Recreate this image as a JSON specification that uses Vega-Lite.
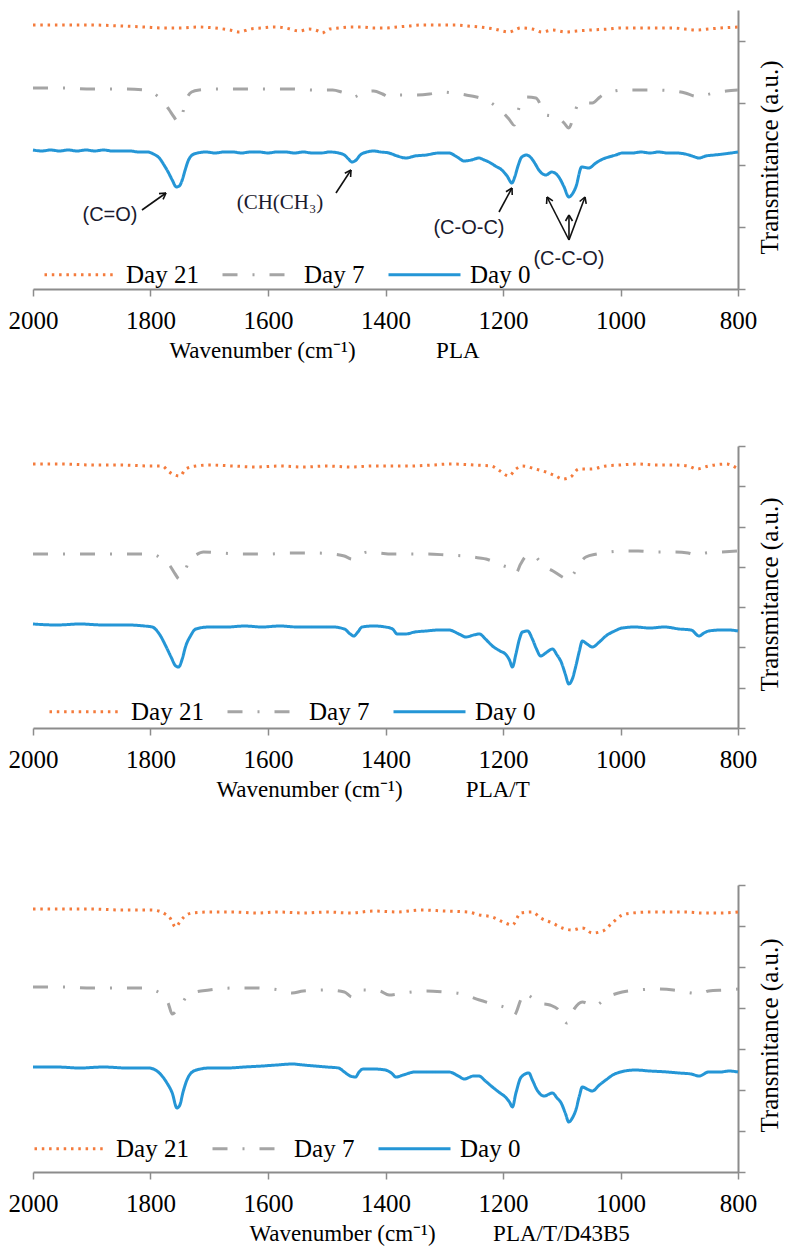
{
  "$schema": "https://vega.github.io/schema/vega-lite/v6.json",
  "background": "white",
  "padding": {"left": 8, "top": 10, "right": 5, "bottom": 5},
  "bounds": "flush",
  "spacing": 157,
  "config": {
    "view": {"stroke": null},
    "font": "Liberation Serif",
    "axis": {
      "grid": false,
      "domainColor": "#8c8c8c",
      "domainWidth": 2,
      "tickColor": "#8c8c8c",
      "tickWidth": 1.5,
      "tickSize": 7,
      "labelFont": "Liberation Serif",
      "labelFontSize": 25,
      "labelColor": "#000000",
      "titleFont": "Liberation Serif",
      "titleFontWeight": "normal",
      "titleColor": "#000000"
    },
    "axisX": {"labelPadding": 12, "labelFlush": false, "titleFontSize": 23},
    "axisY": {"labels": false, "titleAngle": 270, "titleBaseline": "middle", "titleAlign": "center", "titleFontSize": 25},
    "legend": {
      "direction": "horizontal",
      "symbolType": "stroke",
      "symbolSize": 5184,
      "symbolStrokeWidth": 3,
      "labelFont": "Liberation Serif",
      "labelFontSize": 25,
      "labelColor": "#000000",
      "labelOffset": 8,
      "columnPadding": 17,
      "padding": 0,
      "labelLimit": 0
    }
  },
  "resolve": {
    "scale": {"color": "independent", "strokeDash": "independent", "x": "independent", "y": "independent"},
    "legend": {"color": "independent", "strokeDash": "independent"}
  },
  "datasets": {
    "p1": [
      {"s":"Day 0","w":2000,"v":139},{"s":"Day 0","w":1985,"v":138},{"s":"Day 0","w":1970,"v":139},{"s":"Day 0","w":1955,"v":138},{"s":"Day 0","w":1940,"v":139},{"s":"Day 0","w":1925,"v":138},{"s":"Day 0","w":1910,"v":139},{"s":"Day 0","w":1895,"v":138},{"s":"Day 0","w":1880,"v":139},{"s":"Day 0","w":1865,"v":138},{"s":"Day 0","w":1850,"v":138},{"s":"Day 0","w":1835,"v":138},{"s":"Day 0","w":1820,"v":137},{"s":"Day 0","w":1805,"v":137},{"s":"Day 0","w":1795,"v":135},{"s":"Day 0","w":1785,"v":131},{"s":"Day 0","w":1777,"v":124},{"s":"Day 0","w":1770,"v":117},{"s":"Day 0","w":1763,"v":109},{"s":"Day 0","w":1756,"v":102},{"s":"Day 0","w":1751,"v":103},{"s":"Day 0","w":1746,"v":109},{"s":"Day 0","w":1741,"v":119},{"s":"Day 0","w":1736,"v":128},{"s":"Day 0","w":1729,"v":134},{"s":"Day 0","w":1720,"v":136},{"s":"Day 0","w":1705,"v":137},{"s":"Day 0","w":1690,"v":136},{"s":"Day 0","w":1675,"v":137},{"s":"Day 0","w":1660,"v":137},{"s":"Day 0","w":1645,"v":136},{"s":"Day 0","w":1630,"v":137},{"s":"Day 0","w":1615,"v":137},{"s":"Day 0","w":1600,"v":136},{"s":"Day 0","w":1585,"v":137},{"s":"Day 0","w":1570,"v":137},{"s":"Day 0","w":1555,"v":136},{"s":"Day 0","w":1540,"v":137},{"s":"Day 0","w":1525,"v":136},{"s":"Day 0","w":1510,"v":136},{"s":"Day 0","w":1495,"v":137},{"s":"Day 0","w":1480,"v":136},{"s":"Day 0","w":1470,"v":134},{"s":"Day 0","w":1463,"v":130},{"s":"Day 0","w":1457,"v":127},{"s":"Day 0","w":1450,"v":129},{"s":"Day 0","w":1443,"v":134},{"s":"Day 0","w":1432,"v":137},{"s":"Day 0","w":1420,"v":138},{"s":"Day 0","w":1408,"v":137},{"s":"Day 0","w":1394,"v":136},{"s":"Day 0","w":1380,"v":133},{"s":"Day 0","w":1365,"v":131},{"s":"Day 0","w":1350,"v":133},{"s":"Day 0","w":1331,"v":134},{"s":"Day 0","w":1309,"v":136},{"s":"Day 0","w":1292,"v":136},{"s":"Day 0","w":1278,"v":132},{"s":"Day 0","w":1266,"v":128},{"s":"Day 0","w":1254,"v":129},{"s":"Day 0","w":1241,"v":131},{"s":"Day 0","w":1232,"v":129},{"s":"Day 0","w":1224,"v":127},{"s":"Day 0","w":1213,"v":123},{"s":"Day 0","w":1202,"v":119},{"s":"Day 0","w":1193,"v":113},{"s":"Day 0","w":1185,"v":106},{"s":"Day 0","w":1180,"v":112},{"s":"Day 0","w":1175,"v":122},{"s":"Day 0","w":1168,"v":132},{"s":"Day 0","w":1160,"v":134},{"s":"Day 0","w":1152,"v":131},{"s":"Day 0","w":1145,"v":125},{"s":"Day 0","w":1139,"v":119},{"s":"Day 0","w":1127,"v":114},{"s":"Day 0","w":1117,"v":117},{"s":"Day 0","w":1105,"v":112},{"s":"Day 0","w":1096,"v":102},{"s":"Day 0","w":1088,"v":92},{"s":"Day 0","w":1082,"v":95},{"s":"Day 0","w":1076,"v":102},{"s":"Day 0","w":1066,"v":122},{"s":"Day 0","w":1054,"v":121},{"s":"Day 0","w":1042,"v":126},{"s":"Day 0","w":1030,"v":130},{"s":"Day 0","w":1020,"v":132},{"s":"Day 0","w":1008,"v":134},{"s":"Day 0","w":997,"v":136},{"s":"Day 0","w":980,"v":136},{"s":"Day 0","w":965,"v":137},{"s":"Day 0","w":950,"v":136},{"s":"Day 0","w":935,"v":137},{"s":"Day 0","w":920,"v":136},{"s":"Day 0","w":905,"v":136},{"s":"Day 0","w":890,"v":135},{"s":"Day 0","w":878,"v":133},{"s":"Day 0","w":866,"v":131},{"s":"Day 0","w":855,"v":133},{"s":"Day 0","w":840,"v":134},{"s":"Day 0","w":825,"v":135},{"s":"Day 0","w":812,"v":136},{"s":"Day 0","w":800,"v":137},
      {"s":"Day 7","w":2000,"v":201},{"s":"Day 7","w":1950,"v":201},{"s":"Day 7","w":1900,"v":200},{"s":"Day 7","w":1850,"v":200},{"s":"Day 7","w":1810,"v":199},{"s":"Day 7","w":1795,"v":196},{"s":"Day 7","w":1783,"v":190},{"s":"Day 7","w":1775,"v":185},{"s":"Day 7","w":1768,"v":179},{"s":"Day 7","w":1760,"v":172},{"s":"Day 7","w":1753,"v":167},{"s":"Day 7","w":1748,"v":170},{"s":"Day 7","w":1743,"v":181},{"s":"Day 7","w":1737,"v":192},{"s":"Day 7","w":1730,"v":197},{"s":"Day 7","w":1717,"v":199},{"s":"Day 7","w":1690,"v":200},{"s":"Day 7","w":1650,"v":200},{"s":"Day 7","w":1600,"v":200},{"s":"Day 7","w":1560,"v":200},{"s":"Day 7","w":1520,"v":199},{"s":"Day 7","w":1490,"v":199},{"s":"Day 7","w":1475,"v":197},{"s":"Day 7","w":1465,"v":195},{"s":"Day 7","w":1455,"v":192},{"s":"Day 7","w":1445,"v":194},{"s":"Day 7","w":1435,"v":197},{"s":"Day 7","w":1420,"v":198},{"s":"Day 7","w":1405,"v":195},{"s":"Day 7","w":1394,"v":192},{"s":"Day 7","w":1377,"v":194},{"s":"Day 7","w":1350,"v":194},{"s":"Day 7","w":1325,"v":195},{"s":"Day 7","w":1304,"v":197},{"s":"Day 7","w":1285,"v":196},{"s":"Day 7","w":1263,"v":194},{"s":"Day 7","w":1245,"v":192},{"s":"Day 7","w":1229,"v":189},{"s":"Day 7","w":1215,"v":184},{"s":"Day 7","w":1201,"v":177},{"s":"Day 7","w":1190,"v":170},{"s":"Day 7","w":1181,"v":164},{"s":"Day 7","w":1175,"v":176},{"s":"Day 7","w":1169,"v":189},{"s":"Day 7","w":1160,"v":192},{"s":"Day 7","w":1144,"v":191},{"s":"Day 7","w":1135,"v":183},{"s":"Day 7","w":1127,"v":174},{"s":"Day 7","w":1115,"v":173},{"s":"Day 7","w":1105,"v":171},{"s":"Day 7","w":1096,"v":166},{"s":"Day 7","w":1088,"v":161},{"s":"Day 7","w":1080,"v":172},{"s":"Day 7","w":1071,"v":186},{"s":"Day 7","w":1060,"v":186},{"s":"Day 7","w":1048,"v":186},{"s":"Day 7","w":1035,"v":192},{"s":"Day 7","w":1025,"v":196},{"s":"Day 7","w":1010,"v":198},{"s":"Day 7","w":997,"v":199},{"s":"Day 7","w":970,"v":199},{"s":"Day 7","w":940,"v":199},{"s":"Day 7","w":910,"v":198},{"s":"Day 7","w":890,"v":196},{"s":"Day 7","w":875,"v":193},{"s":"Day 7","w":866,"v":192},{"s":"Day 7","w":855,"v":194},{"s":"Day 7","w":840,"v":196},{"s":"Day 7","w":820,"v":198},{"s":"Day 7","w":800,"v":199},
      {"s":"Day 21","w":2000,"v":264},{"s":"Day 21","w":1950,"v":264},{"s":"Day 21","w":1900,"v":264},{"s":"Day 21","w":1850,"v":263},{"s":"Day 21","w":1810,"v":262},{"s":"Day 21","w":1780,"v":261},{"s":"Day 21","w":1750,"v":261},{"s":"Day 21","w":1720,"v":262},{"s":"Day 21","w":1690,"v":261},{"s":"Day 21","w":1665,"v":259},{"s":"Day 21","w":1649,"v":257},{"s":"Day 21","w":1630,"v":260},{"s":"Day 21","w":1610,"v":261},{"s":"Day 21","w":1590,"v":262},{"s":"Day 21","w":1570,"v":261},{"s":"Day 21","w":1547,"v":258},{"s":"Day 21","w":1530,"v":260},{"s":"Day 21","w":1515,"v":258},{"s":"Day 21","w":1508,"v":256},{"s":"Day 21","w":1495,"v":260},{"s":"Day 21","w":1480,"v":261},{"s":"Day 21","w":1460,"v":262},{"s":"Day 21","w":1440,"v":262},{"s":"Day 21","w":1420,"v":261},{"s":"Day 21","w":1400,"v":261},{"s":"Day 21","w":1380,"v":262},{"s":"Day 21","w":1360,"v":263},{"s":"Day 21","w":1340,"v":264},{"s":"Day 21","w":1320,"v":264},{"s":"Day 21","w":1300,"v":264},{"s":"Day 21","w":1280,"v":264},{"s":"Day 21","w":1260,"v":263},{"s":"Day 21","w":1240,"v":262},{"s":"Day 21","w":1215,"v":260},{"s":"Day 21","w":1190,"v":257},{"s":"Day 21","w":1170,"v":261},{"s":"Day 21","w":1150,"v":260},{"s":"Day 21","w":1134,"v":257},{"s":"Day 21","w":1115,"v":259},{"s":"Day 21","w":1093,"v":257},{"s":"Day 21","w":1075,"v":258},{"s":"Day 21","w":1050,"v":259},{"s":"Day 21","w":1020,"v":260},{"s":"Day 21","w":1000,"v":261},{"s":"Day 21","w":970,"v":261},{"s":"Day 21","w":940,"v":261},{"s":"Day 21","w":910,"v":261},{"s":"Day 21","w":890,"v":260},{"s":"Day 21","w":870,"v":259},{"s":"Day 21","w":850,"v":260},{"s":"Day 21","w":830,"v":261},{"s":"Day 21","w":800,"v":262}
    ],
    "p2": [
      {"s":"Day 0","w":2000,"v":104},{"s":"Day 0","w":1960,"v":103},{"s":"Day 0","w":1920,"v":104},{"s":"Day 0","w":1880,"v":103},{"s":"Day 0","w":1840,"v":103},{"s":"Day 0","w":1810,"v":102},{"s":"Day 0","w":1797,"v":101},{"s":"Day 0","w":1785,"v":94},{"s":"Day 0","w":1774,"v":82},{"s":"Day 0","w":1765,"v":71},{"s":"Day 0","w":1757,"v":62},{"s":"Day 0","w":1752,"v":61},{"s":"Day 0","w":1746,"v":69},{"s":"Day 0","w":1740,"v":82},{"s":"Day 0","w":1732,"v":92},{"s":"Day 0","w":1723,"v":99},{"s":"Day 0","w":1700,"v":101},{"s":"Day 0","w":1670,"v":101},{"s":"Day 0","w":1640,"v":102},{"s":"Day 0","w":1610,"v":101},{"s":"Day 0","w":1580,"v":102},{"s":"Day 0","w":1550,"v":101},{"s":"Day 0","w":1520,"v":101},{"s":"Day 0","w":1490,"v":101},{"s":"Day 0","w":1470,"v":99},{"s":"Day 0","w":1460,"v":94},{"s":"Day 0","w":1454,"v":92},{"s":"Day 0","w":1447,"v":96},{"s":"Day 0","w":1440,"v":101},{"s":"Day 0","w":1420,"v":102},{"s":"Day 0","w":1400,"v":101},{"s":"Day 0","w":1388,"v":99},{"s":"Day 0","w":1380,"v":94},{"s":"Day 0","w":1366,"v":94},{"s":"Day 0","w":1350,"v":96},{"s":"Day 0","w":1331,"v":97},{"s":"Day 0","w":1310,"v":98},{"s":"Day 0","w":1292,"v":98},{"s":"Day 0","w":1275,"v":94},{"s":"Day 0","w":1263,"v":91},{"s":"Day 0","w":1250,"v":93},{"s":"Day 0","w":1240,"v":94},{"s":"Day 0","w":1230,"v":89},{"s":"Day 0","w":1218,"v":82},{"s":"Day 0","w":1205,"v":77},{"s":"Day 0","w":1196,"v":74},{"s":"Day 0","w":1189,"v":68},{"s":"Day 0","w":1184,"v":61},{"s":"Day 0","w":1178,"v":74},{"s":"Day 0","w":1172,"v":89},{"s":"Day 0","w":1167,"v":96},{"s":"Day 0","w":1158,"v":97},{"s":"Day 0","w":1150,"v":89},{"s":"Day 0","w":1143,"v":79},{"s":"Day 0","w":1136,"v":72},{"s":"Day 0","w":1125,"v":76},{"s":"Day 0","w":1116,"v":79},{"s":"Day 0","w":1108,"v":73},{"s":"Day 0","w":1101,"v":66},{"s":"Day 0","w":1094,"v":54},{"s":"Day 0","w":1088,"v":44},{"s":"Day 0","w":1082,"v":49},{"s":"Day 0","w":1076,"v":62},{"s":"Day 0","w":1070,"v":77},{"s":"Day 0","w":1065,"v":87},{"s":"Day 0","w":1057,"v":84},{"s":"Day 0","w":1048,"v":81},{"s":"Day 0","w":1036,"v":86},{"s":"Day 0","w":1025,"v":92},{"s":"Day 0","w":1010,"v":97},{"s":"Day 0","w":997,"v":100},{"s":"Day 0","w":975,"v":101},{"s":"Day 0","w":950,"v":100},{"s":"Day 0","w":925,"v":101},{"s":"Day 0","w":900,"v":99},{"s":"Day 0","w":880,"v":98},{"s":"Day 0","w":866,"v":92},{"s":"Day 0","w":858,"v":95},{"s":"Day 0","w":850,"v":97},{"s":"Day 0","w":830,"v":98},{"s":"Day 0","w":815,"v":98},{"s":"Day 0","w":800,"v":97},
      {"s":"Day 7","w":2000,"v":174},{"s":"Day 7","w":1950,"v":174},{"s":"Day 7","w":1900,"v":174},{"s":"Day 7","w":1850,"v":174},{"s":"Day 7","w":1800,"v":174},{"s":"Day 7","w":1785,"v":171},{"s":"Day 7","w":1775,"v":166},{"s":"Day 7","w":1768,"v":163},{"s":"Day 7","w":1758,"v":154},{"s":"Day 7","w":1751,"v":149},{"s":"Day 7","w":1745,"v":153},{"s":"Day 7","w":1740,"v":159},{"s":"Day 7","w":1733,"v":169},{"s":"Day 7","w":1723,"v":173},{"s":"Day 7","w":1710,"v":176},{"s":"Day 7","w":1680,"v":175},{"s":"Day 7","w":1640,"v":174},{"s":"Day 7","w":1600,"v":174},{"s":"Day 7","w":1560,"v":175},{"s":"Day 7","w":1520,"v":175},{"s":"Day 7","w":1490,"v":174},{"s":"Day 7","w":1470,"v":172},{"s":"Day 7","w":1457,"v":169},{"s":"Day 7","w":1445,"v":173},{"s":"Day 7","w":1430,"v":176},{"s":"Day 7","w":1410,"v":175},{"s":"Day 7","w":1390,"v":174},{"s":"Day 7","w":1360,"v":174},{"s":"Day 7","w":1330,"v":174},{"s":"Day 7","w":1295,"v":173},{"s":"Day 7","w":1265,"v":172},{"s":"Day 7","w":1240,"v":170},{"s":"Day 7","w":1229,"v":169},{"s":"Day 7","w":1215,"v":166},{"s":"Day 7","w":1198,"v":162},{"s":"Day 7","w":1185,"v":159},{"s":"Day 7","w":1178,"v":155},{"s":"Day 7","w":1170,"v":164},{"s":"Day 7","w":1160,"v":172},{"s":"Day 7","w":1148,"v":173},{"s":"Day 7","w":1138,"v":167},{"s":"Day 7","w":1127,"v":161},{"s":"Day 7","w":1115,"v":157},{"s":"Day 7","w":1099,"v":151},{"s":"Day 7","w":1088,"v":148},{"s":"Day 7","w":1080,"v":154},{"s":"Day 7","w":1070,"v":164},{"s":"Day 7","w":1059,"v":171},{"s":"Day 7","w":1040,"v":174},{"s":"Day 7","w":1020,"v":176},{"s":"Day 7","w":997,"v":177},{"s":"Day 7","w":970,"v":177},{"s":"Day 7","w":940,"v":176},{"s":"Day 7","w":910,"v":176},{"s":"Day 7","w":885,"v":175},{"s":"Day 7","w":870,"v":173},{"s":"Day 7","w":855,"v":175},{"s":"Day 7","w":830,"v":176},{"s":"Day 7","w":800,"v":177},
      {"s":"Day 21","w":2000,"v":264},{"s":"Day 21","w":1950,"v":264},{"s":"Day 21","w":1900,"v":263},{"s":"Day 21","w":1850,"v":263},{"s":"Day 21","w":1800,"v":262},{"s":"Day 21","w":1780,"v":262},{"s":"Day 21","w":1770,"v":257},{"s":"Day 21","w":1763,"v":254},{"s":"Day 21","w":1750,"v":252},{"s":"Day 21","w":1740,"v":259},{"s":"Day 21","w":1723,"v":262},{"s":"Day 21","w":1700,"v":263},{"s":"Day 21","w":1660,"v":262},{"s":"Day 21","w":1620,"v":261},{"s":"Day 21","w":1580,"v":262},{"s":"Day 21","w":1540,"v":261},{"s":"Day 21","w":1500,"v":262},{"s":"Day 21","w":1460,"v":261},{"s":"Day 21","w":1420,"v":262},{"s":"Day 21","w":1390,"v":262},{"s":"Day 21","w":1360,"v":262},{"s":"Day 21","w":1320,"v":263},{"s":"Day 21","w":1290,"v":264},{"s":"Day 21","w":1250,"v":263},{"s":"Day 21","w":1220,"v":262},{"s":"Day 21","w":1205,"v":257},{"s":"Day 21","w":1190,"v":252},{"s":"Day 21","w":1178,"v":259},{"s":"Day 21","w":1167,"v":262},{"s":"Day 21","w":1145,"v":259},{"s":"Day 21","w":1127,"v":256},{"s":"Day 21","w":1110,"v":252},{"s":"Day 21","w":1099,"v":249},{"s":"Day 21","w":1085,"v":251},{"s":"Day 21","w":1071,"v":259},{"s":"Day 21","w":1050,"v":259},{"s":"Day 21","w":1025,"v":262},{"s":"Day 21","w":1000,"v":263},{"s":"Day 21","w":970,"v":264},{"s":"Day 21","w":940,"v":263},{"s":"Day 21","w":910,"v":263},{"s":"Day 21","w":885,"v":262},{"s":"Day 21","w":870,"v":259},{"s":"Day 21","w":850,"v":262},{"s":"Day 21","w":820,"v":264},{"s":"Day 21","w":800,"v":259}
    ],
    "p3": [
      {"s":"Day 0","w":2000,"v":105},{"s":"Day 0","w":1960,"v":105},{"s":"Day 0","w":1920,"v":104},{"s":"Day 0","w":1880,"v":105},{"s":"Day 0","w":1840,"v":104},{"s":"Day 0","w":1803,"v":104},{"s":"Day 0","w":1785,"v":99},{"s":"Day 0","w":1772,"v":89},{"s":"Day 0","w":1763,"v":79},{"s":"Day 0","w":1755,"v":64},{"s":"Day 0","w":1750,"v":67},{"s":"Day 0","w":1745,"v":79},{"s":"Day 0","w":1738,"v":92},{"s":"Day 0","w":1729,"v":100},{"s":"Day 0","w":1715,"v":103},{"s":"Day 0","w":1700,"v":104},{"s":"Day 0","w":1670,"v":104},{"s":"Day 0","w":1640,"v":105},{"s":"Day 0","w":1610,"v":106},{"s":"Day 0","w":1585,"v":107},{"s":"Day 0","w":1559,"v":108},{"s":"Day 0","w":1540,"v":107},{"s":"Day 0","w":1520,"v":106},{"s":"Day 0","w":1500,"v":105},{"s":"Day 0","w":1480,"v":104},{"s":"Day 0","w":1470,"v":100},{"s":"Day 0","w":1460,"v":96},{"s":"Day 0","w":1451,"v":95},{"s":"Day 0","w":1445,"v":100},{"s":"Day 0","w":1438,"v":103},{"s":"Day 0","w":1420,"v":103},{"s":"Day 0","w":1400,"v":102},{"s":"Day 0","w":1390,"v":99},{"s":"Day 0","w":1382,"v":95},{"s":"Day 0","w":1370,"v":97},{"s":"Day 0","w":1350,"v":100},{"s":"Day 0","w":1320,"v":100},{"s":"Day 0","w":1292,"v":100},{"s":"Day 0","w":1276,"v":96},{"s":"Day 0","w":1266,"v":93},{"s":"Day 0","w":1250,"v":96},{"s":"Day 0","w":1241,"v":96},{"s":"Day 0","w":1230,"v":91},{"s":"Day 0","w":1218,"v":85},{"s":"Day 0","w":1205,"v":79},{"s":"Day 0","w":1196,"v":75},{"s":"Day 0","w":1189,"v":70},{"s":"Day 0","w":1184,"v":65},{"s":"Day 0","w":1178,"v":79},{"s":"Day 0","w":1169,"v":95},{"s":"Day 0","w":1156,"v":99},{"s":"Day 0","w":1150,"v":92},{"s":"Day 0","w":1142,"v":82},{"s":"Day 0","w":1130,"v":76},{"s":"Day 0","w":1116,"v":79},{"s":"Day 0","w":1108,"v":74},{"s":"Day 0","w":1101,"v":69},{"s":"Day 0","w":1094,"v":59},{"s":"Day 0","w":1088,"v":50},{"s":"Day 0","w":1082,"v":54},{"s":"Day 0","w":1076,"v":62},{"s":"Day 0","w":1070,"v":76},{"s":"Day 0","w":1065,"v":85},{"s":"Day 0","w":1057,"v":83},{"s":"Day 0","w":1048,"v":81},{"s":"Day 0","w":1036,"v":87},{"s":"Day 0","w":1025,"v":92},{"s":"Day 0","w":1010,"v":98},{"s":"Day 0","w":1000,"v":100},{"s":"Day 0","w":975,"v":102},{"s":"Day 0","w":950,"v":101},{"s":"Day 0","w":920,"v":100},{"s":"Day 0","w":900,"v":99},{"s":"Day 0","w":880,"v":98},{"s":"Day 0","w":866,"v":96},{"s":"Day 0","w":850,"v":100},{"s":"Day 0","w":830,"v":100},{"s":"Day 0","w":815,"v":101},{"s":"Day 0","w":800,"v":100},
      {"s":"Day 7","w":2000,"v":185},{"s":"Day 7","w":1950,"v":185},{"s":"Day 7","w":1900,"v":184},{"s":"Day 7","w":1850,"v":184},{"s":"Day 7","w":1810,"v":184},{"s":"Day 7","w":1795,"v":182},{"s":"Day 7","w":1780,"v":177},{"s":"Day 7","w":1770,"v":169},{"s":"Day 7","w":1763,"v":158},{"s":"Day 7","w":1755,"v":162},{"s":"Day 7","w":1746,"v":169},{"s":"Day 7","w":1738,"v":176},{"s":"Day 7","w":1729,"v":179},{"s":"Day 7","w":1700,"v":182},{"s":"Day 7","w":1660,"v":184},{"s":"Day 7","w":1620,"v":184},{"s":"Day 7","w":1580,"v":182},{"s":"Day 7","w":1559,"v":179},{"s":"Day 7","w":1540,"v":181},{"s":"Day 7","w":1500,"v":182},{"s":"Day 7","w":1470,"v":180},{"s":"Day 7","w":1457,"v":175},{"s":"Day 7","w":1440,"v":182},{"s":"Day 7","w":1410,"v":181},{"s":"Day 7","w":1394,"v":177},{"s":"Day 7","w":1370,"v":179},{"s":"Day 7","w":1330,"v":181},{"s":"Day 7","w":1300,"v":180},{"s":"Day 7","w":1270,"v":178},{"s":"Day 7","w":1240,"v":172},{"s":"Day 7","w":1212,"v":167},{"s":"Day 7","w":1195,"v":164},{"s":"Day 7","w":1181,"v":157},{"s":"Day 7","w":1170,"v":172},{"s":"Day 7","w":1165,"v":179},{"s":"Day 7","w":1150,"v":174},{"s":"Day 7","w":1139,"v":169},{"s":"Day 7","w":1120,"v":167},{"s":"Day 7","w":1105,"v":162},{"s":"Day 7","w":1091,"v":149},{"s":"Day 7","w":1080,"v":162},{"s":"Day 7","w":1065,"v":170},{"s":"Day 7","w":1045,"v":166},{"s":"Day 7","w":1022,"v":175},{"s":"Day 7","w":997,"v":180},{"s":"Day 7","w":970,"v":182},{"s":"Day 7","w":940,"v":183},{"s":"Day 7","w":910,"v":182},{"s":"Day 7","w":880,"v":179},{"s":"Day 7","w":865,"v":178},{"s":"Day 7","w":850,"v":181},{"s":"Day 7","w":820,"v":182},{"s":"Day 7","w":800,"v":183},
      {"s":"Day 21","w":2000,"v":263},{"s":"Day 21","w":1950,"v":263},{"s":"Day 21","w":1900,"v":263},{"s":"Day 21","w":1850,"v":262},{"s":"Day 21","w":1800,"v":262},{"s":"Day 21","w":1786,"v":261},{"s":"Day 21","w":1775,"v":258},{"s":"Day 21","w":1768,"v":255},{"s":"Day 21","w":1757,"v":245},{"s":"Day 21","w":1750,"v":250},{"s":"Day 21","w":1743,"v":255},{"s":"Day 21","w":1729,"v":259},{"s":"Day 21","w":1700,"v":260},{"s":"Day 21","w":1660,"v":260},{"s":"Day 21","w":1620,"v":259},{"s":"Day 21","w":1580,"v":260},{"s":"Day 21","w":1540,"v":259},{"s":"Day 21","w":1500,"v":260},{"s":"Day 21","w":1460,"v":259},{"s":"Day 21","w":1420,"v":261},{"s":"Day 21","w":1380,"v":260},{"s":"Day 21","w":1340,"v":262},{"s":"Day 21","w":1300,"v":261},{"s":"Day 21","w":1260,"v":260},{"s":"Day 21","w":1240,"v":257},{"s":"Day 21","w":1218,"v":255},{"s":"Day 21","w":1200,"v":250},{"s":"Day 21","w":1184,"v":247},{"s":"Day 21","w":1170,"v":259},{"s":"Day 21","w":1150,"v":260},{"s":"Day 21","w":1136,"v":254},{"s":"Day 21","w":1116,"v":249},{"s":"Day 21","w":1099,"v":244},{"s":"Day 21","w":1082,"v":242},{"s":"Day 21","w":1065,"v":244},{"s":"Day 21","w":1048,"v":239},{"s":"Day 21","w":1030,"v":241},{"s":"Day 21","w":1014,"v":249},{"s":"Day 21","w":997,"v":257},{"s":"Day 21","w":980,"v":259},{"s":"Day 21","w":950,"v":260},{"s":"Day 21","w":920,"v":260},{"s":"Day 21","w":890,"v":260},{"s":"Day 21","w":860,"v":259},{"s":"Day 21","w":830,"v":259},{"s":"Day 21","w":800,"v":260}
    ],
    "arrows": [
      {"w1":1814.5,"v1":79,"w2":1773.6,"v2":96},{"w1":1773.6,"v1":96,"w2":1785.5,"v2":95.4},{"w1":1773.6,"v1":96,"w2":1778.6,"v2":89.6},
      {"w1":1484.3,"v1":96,"w2":1458.7,"v2":119},{"w1":1458.7,"v1":119,"w2":1469.3,"v2":115.8},{"w1":1458.7,"v1":119,"w2":1459.4,"v2":112},
      {"w1":1206.8,"v1":77,"w2":1184.7,"v2":101},{"w1":1184.7,"v1":101,"w2":1194.9,"v2":97.3},{"w1":1184.7,"v1":101,"w2":1184.3,"v2":94},
      {"w1":1087.7,"v1":49,"w2":1125.1,"v2":92},{"w1":1125.1,"v1":92,"w2":1125.8,"v2":85},{"w1":1125.1,"v1":92,"w2":1115.1,"v2":88.2},
      {"w1":1087.7,"v1":49,"w2":1060.4,"v2":92},{"w1":1060.4,"v1":92,"w2":1069.6,"v2":87.5},{"w1":1060.4,"v1":92,"w2":1058.4,"v2":85.1},
      {"w1":1087.7,"v1":49,"w2":1087.7,"v2":74},{"w1":1087.7,"v1":74,"w2":1093.6,"v2":68},{"w1":1087.7,"v1":74,"w2":1081.7,"v2":68}
    ],
    "labelsSans": [
      {"w":1868.9,"v":74,"t":"(C=O)"},
      {"w":1257.9,"v":61,"t":"(C-O-C)"},
      {"w":1087.7,"v":30,"t":"(C-C-O)"}
    ],
    "labelsSerif": [
      {"w":1579.6,"v":86,"t":"(CH(CH\u2083)"}
    ]
  },
  "vconcat": [
    {
      "width": 705,
      "height": 279,
      "layer": [
        {
          "data": {"name": "p1"},
          "mark": {"type": "line", "strokeWidth": 3, "interpolate": "monotone"},
          "encoding": {
            "x": {"field": "w", "type": "quantitative", "scale": {"domain": [800, 2000], "reverse": true, "nice": false, "zero": false},
              "axis": {"values": [2000, 1800, 1600, 1400, 1200, 1000, 800], "format": "d", "title": "Wavenumber (cm\u207b\u00b9)\u00a0\u00a0\u00a0\u00a0\u00a0\u00a0\u00a0\u00a0\u00a0\u00a0\u00a0\u00a0\u00a0\u00a0PLA", "titleX": 136, "titleY": 68, "titleAlign": "left", "titleAnchor": "start", "titleBaseline": "alphabetic"}},
            "y": {"field": "v", "type": "quantitative", "scale": {"domain": [0, 279], "nice": false, "zero": false},
              "axis": {"orient": "right", "values": [0, 31, 62, 93, 124, 155, 186, 217, 248, 279], "title": "Transmitance (a.u.)", "titleX": 31, "titleY": 147}},
            "color": {"field": "s", "type": "nominal", "scale": {"domain": ["Day 21", "Day 7", "Day 0"], "range": ["#F47B3C", "#A5A5A5", "#2596D6"]},
              "legend": {"orient": "none", "legendX": 10, "legendY": 227, "title": null}},
            "strokeDash": {"field": "s", "type": "nominal", "scale": {"domain": ["Day 21", "Day 7", "Day 0"], "range": [[2.5, 4.8], [15, 15, 2, 15], [1, 0]]},
              "legend": {"orient": "none", "legendX": 10, "legendY": 227, "title": null}}
          }
        },
        {
          "data": {"name": "arrows"},
          "mark": {"type": "rule", "color": "#111111", "strokeWidth": 1.6},
          "encoding": {
            "x": {"field": "w1", "type": "quantitative"},
            "y": {"field": "v1", "type": "quantitative"},
            "x2": {"field": "w2"},
            "y2": {"field": "v2"}
          }
        },
        {
          "data": {"name": "labelsSans"},
          "mark": {"type": "text", "font": "Liberation Sans", "fontSize": 20, "color": "#1a1a2e", "align": "center", "baseline": "middle"},
          "encoding": {
            "x": {"field": "w", "type": "quantitative"},
            "y": {"field": "v", "type": "quantitative"},
            "text": {"field": "t"}
          }
        },
        {
          "data": {"name": "labelsSerif"},
          "mark": {"type": "text", "font": "Liberation Serif", "fontSize": 21, "color": "#1a1a2e", "align": "center", "baseline": "middle"},
          "encoding": {
            "x": {"field": "w", "type": "quantitative"},
            "y": {"field": "v", "type": "quantitative"},
            "text": {"field": "t"}
          }
        }
      ]
    },
    {
      "width": 705,
      "height": 282,
      "data": {"name": "p2"},
      "mark": {"type": "line", "strokeWidth": 3, "interpolate": "monotone"},
      "encoding": {
        "x": {"field": "w", "type": "quantitative", "scale": {"domain": [800, 2000], "reverse": true, "nice": false, "zero": false},
          "axis": {"values": [2000, 1800, 1600, 1400, 1200, 1000, 800], "format": "d", "title": "Wavenumber (cm\u207b\u00b9)\u00a0\u00a0\u00a0\u00a0\u00a0\u00a0\u00a0\u00a0\u00a0\u00a0\u00a0PLA/T", "titleX": 183, "titleY": 68, "titleAlign": "left", "titleAnchor": "start", "titleBaseline": "alphabetic"}},
        "y": {"field": "v", "type": "quantitative", "scale": {"domain": [0, 282], "nice": false, "zero": false},
          "axis": {"orient": "right", "values": [0, 40.29, 80.57, 120.86, 161.14, 201.43, 241.71, 282], "title": "Transmitance (a.u.)", "titleX": 31, "titleY": 148}},
        "color": {"field": "s", "type": "nominal", "scale": {"domain": ["Day 21", "Day 7", "Day 0"], "range": ["#F47B3C", "#A5A5A5", "#2596D6"]},
          "legend": {"orient": "none", "legendX": 15, "legendY": 228, "title": null}},
        "strokeDash": {"field": "s", "type": "nominal", "scale": {"domain": ["Day 21", "Day 7", "Day 0"], "range": [[2.5, 4.8], [15, 15, 2, 15], [1, 0]]},
          "legend": {"orient": "none", "legendX": 15, "legendY": 228, "title": null}}
      }
    },
    {
      "width": 705,
      "height": 287,
      "data": {"name": "p3"},
      "mark": {"type": "line", "strokeWidth": 3, "interpolate": "monotone"},
      "encoding": {
        "x": {"field": "w", "type": "quantitative", "scale": {"domain": [800, 2000], "reverse": true, "nice": false, "zero": false},
          "axis": {"values": [2000, 1800, 1600, 1400, 1200, 1000, 800], "format": "d", "title": "Wavenumber (cm\u207b\u00b9)\u00a0\u00a0\u00a0\u00a0\u00a0\u00a0\u00a0\u00a0\u00a0\u00a0PLA/T/D43B5", "titleX": 216, "titleY": 68, "titleAlign": "left", "titleAnchor": "start", "titleBaseline": "alphabetic"}},
        "y": {"field": "v", "type": "quantitative", "scale": {"domain": [0, 287], "nice": false, "zero": false},
          "axis": {"orient": "right", "values": [0, 41, 82, 123, 164, 205, 246, 287], "title": "Transmitance (a.u.)", "titleX": 31, "titleY": 150}},
        "color": {"field": "s", "type": "nominal", "scale": {"domain": ["Day 21", "Day 7", "Day 0"], "range": ["#F47B3C", "#A5A5A5", "#2596D6"]},
          "legend": {"orient": "none", "legendX": 0, "legendY": 226, "title": null}},
        "strokeDash": {"field": "s", "type": "nominal", "scale": {"domain": ["Day 21", "Day 7", "Day 0"], "range": [[2.5, 4.8], [15, 15, 2, 15], [1, 0]]},
          "legend": {"orient": "none", "legendX": 0, "legendY": 226, "title": null}}
      }
    }
  ]
}
